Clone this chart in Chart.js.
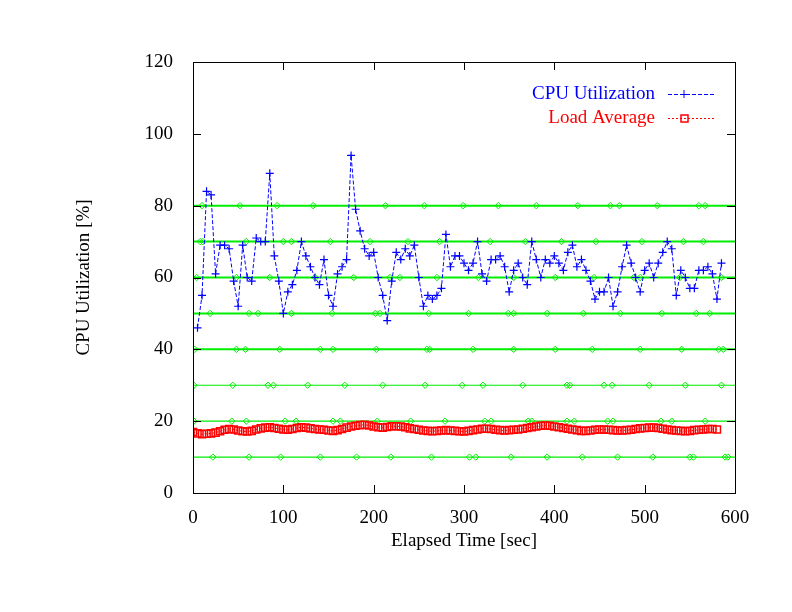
<!DOCTYPE html>
<html><head><meta charset="utf-8">
<script src="https://cdn.jsdelivr.net/npm/chart.js@4"></script>
<style>html,body{margin:0;padding:0;background:#fff}#c{display:block}</style>
</head><body>
<canvas id="c" width="792" height="612"></canvas>
<script>
const xTicks = [0,100,200,300,400,500,600];
const yTicks = [0,20,40,60,80,100,120];
const cpuTimes = Array.from({length:117},(_, i)=>5+5*i);
const cpuValues = [46,55,84,83,61,69,69,68,59,52,69,60,59,71,70,70,89,66,59,50,56,58,62,70,66,63,60,58,65,55,52,61,63,65,94,79,73,68,66,67,60,55,48,59,67,65,68,66,69,60,52,55,54,55,57,72,63,66,66,64,62,64,70,61,59,65,65,66,63,56,62,64,60,58,70,65,60,65,64,66,64,62,67,69,63,65,62,59,54,56,56,60,52,56,63,69,64,60,56,62,64,60,64,67,70,68,55,62,60,57,57,62,62,63,61,54,64];
const loadTimes = Array.from({length:117},(_, i)=>5*i);
const loadValues = [17.0,16.6,16.4,16.5,16.6,16.8,17.2,17.6,17.8,17.7,17.4,17.2,17.1,17.3,17.7,18.0,18.2,18.3,18.1,17.9,17.7,17.6,17.8,18.1,18.3,18.2,18.0,17.8,17.7,17.6,17.4,17.3,17.5,17.8,18.2,18.5,18.7,18.9,19.0,18.8,18.5,18.3,18.2,18.4,18.6,18.6,18.5,18.3,18.0,17.8,17.6,17.4,17.3,17.2,17.3,17.4,17.5,17.4,17.3,17.2,17.1,17.3,17.5,17.7,17.9,17.9,17.8,17.6,17.5,17.4,17.5,17.6,17.7,17.9,18.1,18.3,18.5,18.7,18.8,18.7,18.5,18.3,18.1,17.9,17.7,17.5,17.3,17.3,17.4,17.6,17.7,17.7,17.6,17.5,17.4,17.4,17.5,17.6,17.8,18.0,18.1,18.2,18.2,18.1,17.9,17.7,17.5,17.4,17.3,17.2,17.3,17.5,17.6,17.7,17.8,17.8,17.7];
const levels = [80,70,60,50,40,30,20,10];
const diamondTimes = {
  80:[10,52,93,133,213,256,299,338,380,426,462,472,514,560,567],
  70:[8,11,59,100,109,152,196,238,273,329,368,408,446,497,543,565],
  60:[4,48,85,135,178,218,229,270,316,355,401,444,488,495,539,585],
  50:[19,62,72,109,154,202,207,261,305,349,355,392,432,473,519,557,572],
  40:[2,48,58,96,141,155,203,259,262,310,355,401,442,495,541,582,587],
  30:[1,44,83,89,127,168,210,257,298,321,365,414,417,455,464,505,545,585],
  20:[1,43,59,102,114,155,163,204,241,279,323,330,371,375,414,422,459,465,518,530,567],
  10:[22,62,97,141,181,219,264,306,313,352,392,431,470,509,550,554,589,592]
};
const green = '#00ee00';
const datasets = [];
levels.forEach(L=>{
  const pts = [{x:0,y:L}].concat(diamondTimes[L].map(t=>({x:t,y:L}))).concat([{x:600,y:L}]);
  const n = pts.length;
  datasets.push({data:pts, borderColor:green, borderWidth: L>=40?2:1.2, showLine:true,
    pointStyle:'rectRot', pointRadius:(ctx)=> (ctx.dataIndex===0||ctx.dataIndex===n-1)?0:3.2,
    pointBorderColor:green, pointBackgroundColor:'rgba(0,0,0,0)', pointBorderWidth:1, order:5});
});
datasets.push({label:'Load Average', data:loadTimes.map((t,i)=>({x:t,y:loadValues[i]})), showLine:true,
  borderColor:'#ff0000', borderWidth:1, borderDash:[2,2], pointStyle:'rect', pointRadius:5,
  pointBorderColor:'#ff0000', pointBackgroundColor:'rgba(0,0,0,0)', pointBorderWidth:1.5, order:2});
datasets.push({label:'CPU Utilization', data:cpuTimes.map((t,i)=>({x:t,y:cpuValues[i]})), showLine:true,
  borderColor:'#0000ff', borderWidth:1, borderDash:[4,2], pointStyle:'cross', pointRadius:4,
  pointBorderColor:'#0000ff', pointBorderWidth:1.2, order:1});

const FONT = '"Liberation Serif","DejaVu Serif",serif';
const deco = {
  id:'deco',
  afterDraw(chart){
    const {ctx, chartArea:a, scales:{x,y}} = chart;
    ctx.save();
    ctx.strokeStyle='#000'; ctx.lineWidth=1;
    ctx.strokeRect(a.left+0.5,a.top+0.5,a.right-a.left,a.bottom-a.top);
    ctx.beginPath();
    yTicks.forEach(v=>{const py=Math.round(y.getPixelForValue(v))+0.5;
      ctx.moveTo(a.left,py);ctx.lineTo(a.left+8,py);ctx.moveTo(a.right,py);ctx.lineTo(a.right-8,py);});
    xTicks.forEach(v=>{const px=Math.round(x.getPixelForValue(v))+0.5;
      ctx.moveTo(px,a.bottom);ctx.lineTo(px,a.bottom-8);ctx.moveTo(px,a.top);ctx.lineTo(px,a.top+8);});
    ctx.stroke();
    ctx.fillStyle='#000'; ctx.font='19px '+FONT;
    ctx.textAlign='center'; ctx.textBaseline='top';
    ctx.fillText('Elapsed Time [sec]', (a.left+a.right)/2, 532);
    ctx.save(); ctx.translate(84,(a.top+a.bottom)/2); ctx.rotate(-Math.PI/2);
    ctx.textBaseline='middle'; ctx.fillText('CPU Utilization [%]',0,0); ctx.restore();
    // legend
    ctx.textAlign='right'; ctx.textBaseline='middle'; ctx.font='19px '+FONT;
    const items=[['CPU Utilization','#0000ff',94,'cross',[4,2]],['Load Average','#ff0000',118,'rect',[2,2]]];
    items.forEach(([t,c,py,st,dash])=>{
      ctx.fillStyle=c; ctx.fillText(t,655,py);
      ctx.strokeStyle=c; ctx.lineWidth=1; ctx.setLineDash(dash);
      ctx.beginPath(); ctx.moveTo(668,py+0.5); ctx.lineTo(716,py+0.5); ctx.stroke(); ctx.setLineDash([]);
      if(st==='cross'){ctx.beginPath();ctx.moveTo(684,py-4);ctx.lineTo(684,py+4);ctx.moveTo(680,py+0.5);ctx.lineTo(688,py+0.5);ctx.stroke();}
      else{ctx.lineWidth=1.5;ctx.strokeRect(681,py-3,7,7);}
    });
    ctx.restore();
  }
};
new Chart(document.getElementById('c'),{
  type:'scatter',
  data:{datasets},
  options:{
    responsive:false, animation:false, devicePixelRatio:1,
    layout:{padding:{top:62,right:57,left:0,bottom:0}},
    plugins:{legend:{display:false},tooltip:{enabled:false}},
    scales:{
      x:{type:'linear',min:0,max:600,afterBuildTicks:s=>{s.ticks=xTicks.map(v=>({value:v}));},
        grid:{display:false}, border:{display:false},
        ticks:{color:'#000',font:{family:FONT,size:19},padding:6,maxRotation:0},
        afterFit:s=>{s.height=119;}},
      y:{type:'linear',min:0,max:120,afterBuildTicks:s=>{s.ticks=yTicks.map(v=>({value:v}));},
        grid:{display:false}, border:{display:false},
        ticks:{color:'#000',font:{family:FONT,size:19},padding:12},
        afterFit:s=>{s.width=193;}}
    }
  },
  plugins:[deco]
});
</script>
</body></html>
